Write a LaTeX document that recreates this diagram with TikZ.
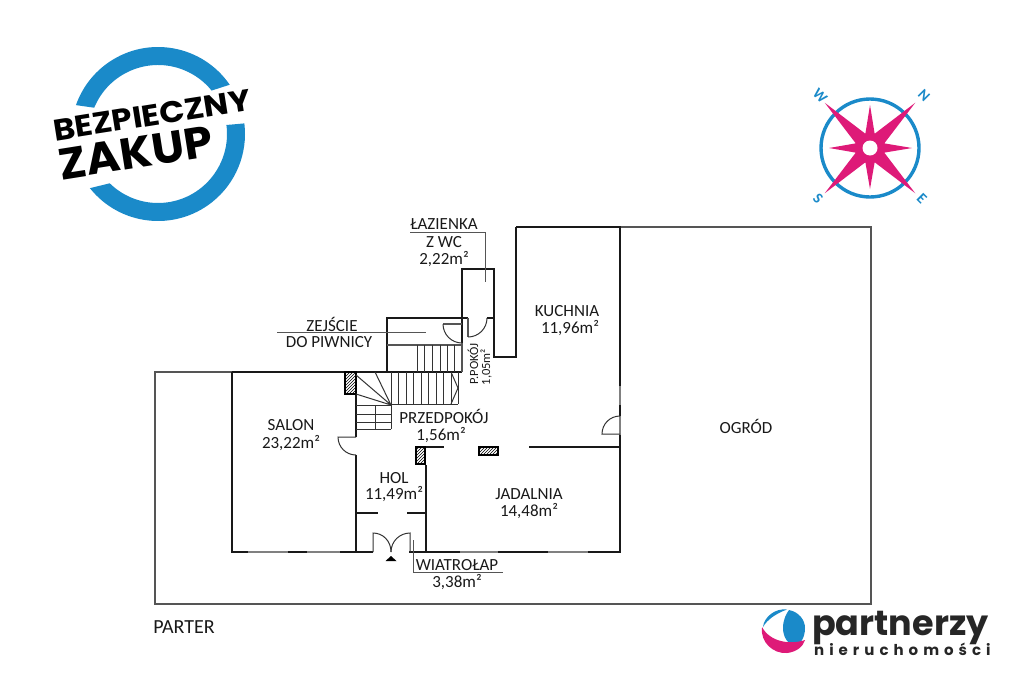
\documentclass[tikz,border=0pt]{standalone}
\usepackage{fontspec}
\setmainfont{Carlito}
\newfontfamily\badgefont{Poppins}
\newfontfamily\logofont{Poppins}
\usetikzlibrary{patterns}
\definecolor{ringblue}{HTML}{1A8AC9}
\definecolor{starpink}{HTML}{DE1A78}
\definecolor{wallgray}{HTML}{555555}
\definecolor{wingray}{HTML}{808080}
\tikzset{
  wall/.style={draw=black!90,line width=2.4pt},
  thinwall/.style={draw=wallgray,line width=1.3pt},
  windowline/.style={draw=wingray,line width=1.3pt},
  fineline/.style={draw=black!80,line width=1pt},
  leader/.style={draw=wallgray,line width=1pt},
  pillar/.style={draw=black,line width=1.4pt,pattern=north east lines,pattern color=black},
  roomlabel/.style={font=\fontsize{17}{19}\selectfont,text=black!90,inner sep=0pt},
  smalllabel/.style={font=\fontsize{12.5}{15}\selectfont,text=black!90,inner sep=0pt,rotate=90},
  compassletter/.style={font=\fontsize{15}{16}\selectfont\bfseries,text=ringblue,inner sep=0pt,rotate=-45},
}
\begin{document}
\begin{tikzpicture}[x=1pt,y=-1pt]
\useasboundingbox (0,0) rectangle (1024,683);
% garden outline
\draw[thinwall] (232,372) -- (155,372) -- (155,604) -- (871,604) -- (871,227) -- (620,227);
% windows (thin)
\draw[windowline] (232,552) -- (373,552) (409,552) -- (620,552);
\draw[windowline] (620,227) -- (620,447);
% thick walls
\draw[wall] (516,227) -- (620,227) -- (620,386) (620,405) -- (620,416) (620,435) -- (620,552);
\draw[wall,line join=miter] (232,372) -- (462,372);
\draw[wall] (232,372) -- (232,552) -- (248,552) (288,552) -- (307,552) (340,552) -- (373,552);
\draw[wall] (409,552) -- (460,552) (498,552) -- (548,552) (588,552) -- (621,552);
\draw[wall] (356,394) -- (356,437) (356,455) -- (356,552);
\draw[wall] (426,465) -- (426,552);
\draw[wall] (356,513) -- (378,513) (407,513) -- (426,513);
\draw[wall] (416,447) -- (444,447);
\draw[wall] (529,447) -- (620,447);
\draw[wall] (516,227) -- (516,357) -- (494,357) -- (494,269) -- (462,269) -- (462,343);
\draw[wall] (387,372) -- (387,318) -- (468,318) (487,318) -- (494,318);
% pillars
\node[pillar,minimum width=9pt,minimum height=17pt,inner sep=0pt] (p1) at (420.5,455.5) {};
\node[pillar,minimum width=19pt,minimum height=8pt,inner sep=0pt] (p2) at (488.5,451) {};
\node[pillar,minimum width=11pt,minimum height=22pt,inner sep=0pt] (p3) at (350.5,383) {};
% doors
\draw[thinwall] (468,318) -- (468,337);
\draw[fineline] (487,318) .. controls (487,328.5) and (478.5,337) .. (468,337);
\draw[thinwall] (443,324) -- (462,324);
\draw[fineline] (443,324) .. controls (443,334.5) and (451.5,343) .. (462,343);
\draw[fineline] (356,437) -- (338,437) .. controls (338,447) and (346,455) .. (356,455);
\draw[fineline] (620,416) .. controls (610,416) and (602,424) .. (602,434) -- (620,434);
\draw[fineline] (373,552) -- (373,533) .. controls (383,533) and (391,541) .. (391,552);
\draw[fineline] (410,552) -- (410,533) .. controls (400,533) and (391,541) .. (391,552);
\fill[black] (391,556) -- (396.5,561) -- (385.5,561) -- cycle;
% upper stairs
\draw[thinwall] (387,345) -- (462,345) (462,343) -- (462,372);
\foreach \sx in {417,424.5,432.5,440,447,454}{\draw[fineline] (\sx,345) -- (\sx,372);}
% lower stairs
\foreach \sx in {391,398,406,413,421,428,436,443,451}{\draw[fineline] (\sx,372) -- (\sx,404);}
\draw[fineline] (391,404) -- (458,404) (458,372) -- (458,404);
\draw[fineline] (451,372) -- (458,388) -- (451,404);
\draw[fineline] (391,405) -- (356,375) (391,405) -- (375,372) (391,405) -- (356,394);
\draw[fineline] (356,405) -- (391,405) (356,414) -- (391,414) (356,422) -- (391,422) (356,429) -- (391,429);
\draw[fineline] (391,404) -- (391,429) (375,405) -- (375,429);
% leaders
\coordinate (lazA) at (410,232); \coordinate (lazB) at (485,232); \coordinate (lazC) at (485,282);
\draw[leader] (lazA) -- (lazB) -- (lazC);
\coordinate (zejA) at (277,332); \coordinate (zejB) at (426,332);
\draw[leader] (zejA) -- (zejB);
\coordinate (wiaA) at (413,540); \coordinate (wiaB) at (413,572); \coordinate (wiaC) at (503,572);
\draw[leader] (wiaA) -- (wiaB) -- (wiaC);
% labels
\node[roomlabel] (t1) at (444,224) {ŁAZIENKA};
\node[roomlabel] (t2) at (444,242) {Z WC};
\node[roomlabel] (t3) at (444,259) {2,22m²};
\node[roomlabel] (t4) at (332,324) {ZEJŚCIE};
\node[roomlabel] (t5) at (329,342) {DO PIWNICY};
\node[roomlabel] (t6) at (567,311) {KUCHNIA};
\node[roomlabel] (t7) at (570,328) {11,96m²};
\node[roomlabel] (t8) at (291,425) {SALON};
\node[roomlabel] (t9) at (291,443) {23,22m²};
\node[roomlabel] (t10) at (444,416) {PRZEDPOKÓJ};
\node[roomlabel] (t11) at (441,435) {1,56m²};
\node[roomlabel] (t12) at (394,478) {HOL};
\node[roomlabel] (t13) at (394,494) {11,49m²};
\node[roomlabel] (t14) at (529,494) {JADALNIA};
\node[roomlabel] (t15) at (529,511) {14,48m²};
\node[roomlabel] (t16) at (457,565) {WIATROŁAP};
\node[roomlabel] (t17) at (457,582) {3,38m²};
\node[roomlabel] (t18) at (746,426) {OGRÓD};
\node[roomlabel,font=\fontsize{20}{22}\selectfont] (t19) at (184,627) {PARTER};
\node[smalllabel] (t20) at (473,364) {P.POKÓJ};
\node[smalllabel] (t21) at (486,367) {1,05m²};
% badge
\begin{scope}[shift={(158,134)},x=1pt,y=1pt]
\fill[ringblue] (34.5:87) arc[start angle=34.5,end angle=160.6,radius=87] -- (157.6:69) arc[start angle=157.6,end angle=39,radius=69] -- cycle;
\fill[ringblue] (218.5:87) arc[start angle=218.5,end angle=367,radius=87] -- (367.5:69) arc[start angle=367.5,end angle=225.6,radius=69] -- cycle;
\end{scope}
\node[inner sep=0pt,rotate=9,text=black,font=\badgefont\bfseries\fontsize{30}{32}\selectfont] (b1) at (152,115) {\scalebox{1.1}[1]{BEZPIECZNY}};
\node[inner sep=0pt,rotate=9,text=black,font=\badgefont\bfseries\fontsize{44}{46}\selectfont] (b2) at (136,153) {\scalebox{1.05}[1]{ZAKUP}};
% compass
\begin{scope}[shift={(870,148)},x=1pt,y=1pt]
\draw[ringblue,line width=3.4pt] (0,0) circle[radius=49];
\fill[starpink] (45:64) -- (18:15) -- (0:42) -- (-18:15) -- (-45:64) -- (-72:15) -- (-90:41) -- (-108:15) -- (-135:64) -- (-162:15) -- (180:41) -- (162:15) -- (135:64) -- (108:15) -- (90:43) -- (72:15) -- cycle;
\fill[white] (0,0) circle[radius=7.5];
\end{scope}
\node[compassletter] (cw) at (820,96) {W};
\node[compassletter] (cn) at (924,96) {N};
\node[compassletter] (cs) at (818,199) {S};
\node[compassletter] (ce) at (922,199) {E};
% logo
\fill[ringblue] (789,610) .. controls (799,612) and (805,620) .. (805,628) .. controls (805,638) and (800,645) .. (795,645) .. controls (788,645) and (783,637) .. (783,628) .. controls (783,620) and (786,614) .. (789,610) -- cycle;
\fill[ringblue] (787,609.5) .. controls (775,608) and (764,617) .. (763,627) .. controls (767,620) and (775,614) .. (787,609.5) -- cycle;
\fill[starpink] (762,627) .. controls (760,642) and (773,654) .. (787,653) .. controls (796,652) and (803,647) .. (805,640) .. controls (790,645) and (770,642) .. (762,627) -- cycle;
\node[inner sep=0pt,anchor=base west,text=black!85,font=\logofont\bfseries\fontsize{35}{38}\selectfont] (l1) at (812,635) {partnerzy};
\node[inner sep=0pt,anchor=base west,text=black!85,font=\logofont\bfseries\fontsize{15}{16}\selectfont] (l2) at (814,655) {n\hspace{5pt}i\hspace{5pt}e\hspace{5pt}r\hspace{5pt}u\hspace{5pt}c\hspace{5pt}h\hspace{5pt}o\hspace{5pt}m\hspace{5pt}o\hspace{5pt}ś\hspace{5pt}c\hspace{5pt}i};
\end{tikzpicture}
\end{document}
